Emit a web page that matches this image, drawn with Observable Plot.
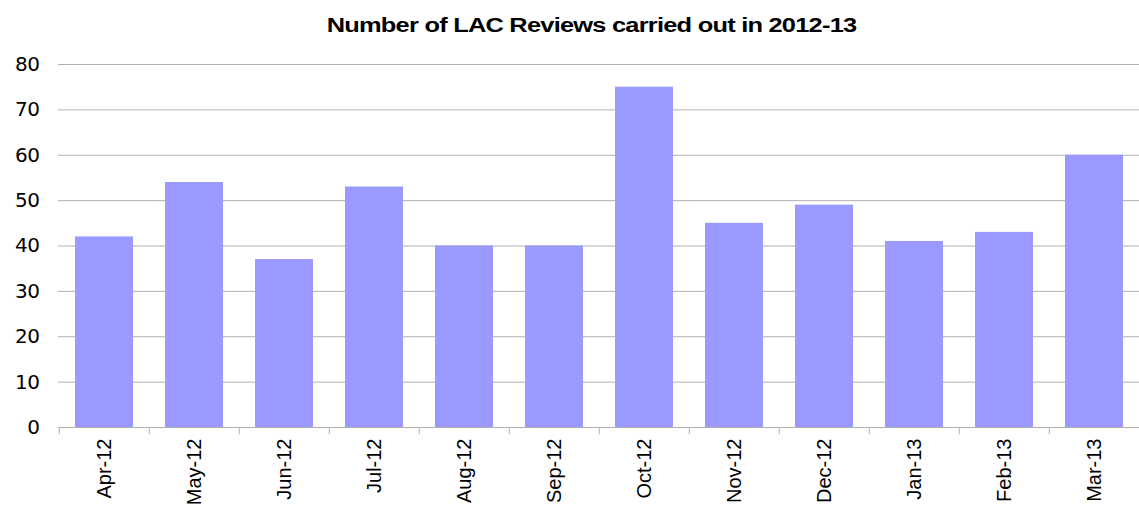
<!DOCTYPE html>
<html>
<head>
<meta charset="utf-8">
<script src="https://cdn.jsdelivr.net/npm/d3@7"></script>
<script src="https://cdn.jsdelivr.net/npm/@observablehq/plot@0.6"></script>
<style>
  html, body { margin: 0; padding: 0; background: #fff; }
  body { width: 1139px; height: 509px; overflow: hidden; font-family: "Liberation Sans", Arial, sans-serif; }
  #title { height: 46px; box-sizing: border-box; padding-top: 14px; text-align: center; font-weight: bold; font-size: 20px; line-height: 22px; color: #000; }
  #title span { display: inline-block; transform: translateX(22px) scaleX(1.27); letter-spacing: -0.6px; }
  svg text { font-family: "Liberation Sans", Arial, sans-serif; }
  svg g[aria-label="y-axis tick label"] text { font-family: "DejaVu Sans", sans-serif; letter-spacing: -0.5px; }
</style>
</head>
<body>
<div id="title"><span>Number of LAC Reviews carried out in 2012-13</span></div>
<div id="chart"></div>
<script>
const months = ["Apr-12","May-12","Jun-12","Jul-12","Aug-12","Sep-12","Oct-12","Nov-12","Dec-12","Jan-13","Feb-13","Mar-13"];
const reviews = [42, 54, 37, 53, 40, 40, 75, 45, 49, 41, 43, 60];
const yTicks = [0, 10, 20, 30, 40, 50, 60, 70, 80];

const data = months.map((m, i) => ({month: m, value: reviews[i]}));

const chart = Plot.plot({
  width: 1139,
  height: 463,
  marginLeft: 58,
  marginRight: 0,
  marginTop: 18,
  marginBottom: 82,
  style: {background: "#fff", color: "#000", overflow: "visible"},
  x: {domain: months, range: [56, 1142], paddingInner: 0.36, paddingOuter: 0.18, axis: null, label: null},
  y: {domain: [0, 80], axis: null, label: null},
  marks: [
    Plot.gridY(yTicks, {stroke: "#b0b0b0", strokeOpacity: 1, strokeWidth: 1}),
    Plot.barY(data, {x: "month", y: "value", fill: "#9999ff"}),
    Plot.ruleY([0], {stroke: "#b0b0b0", strokeWidth: 1}),
    Plot.ruleX(months, {x: d => d, dx: -45.25, y1: 0, y2: -1.6, stroke: "#b0b0b0", strokeWidth: 1}),
    Plot.axisY(yTicks, {tickSize: 0, tickPadding: 19, fontSize: 20, fill: "#000", label: null}),
    Plot.axisX({tickSize: 0, tickRotate: -90, tickPadding: 11, fontSize: 20, fill: "#000", label: null})
  ]
});
document.getElementById("chart").appendChild(chart);
</script>
</body>
</html>
